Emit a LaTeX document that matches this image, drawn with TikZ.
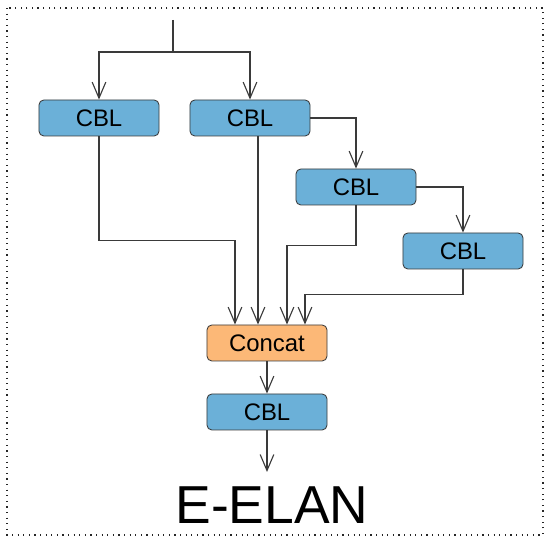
\documentclass[tikz,border=0pt]{standalone}
\usepackage{fontspec}
\setmainfont{Liberation Sans}
\usetikzlibrary{arrows.meta, positioning, calc}
\definecolor{EEblue}{HTML}{6BB0D8}
\definecolor{EEorange}{HTML}{FCB877}
\definecolor{EEink}{HTML}{3A3A3A}
\tikzset{
  eebox/.style={
    rectangle, rounded corners=1.2mm, draw=EEink, line width=0.6pt,
    text=black, align=center, minimum width=30mm, minimum height=9mm,
    inner sep=0pt, font=\fontsize{17}{19}\selectfont},
  eecbl/.style={eebox, fill=EEblue},
  eecat/.style={eebox, fill=EEorange},
  eearr/.style={-{Straight Barb[length=4mm,width=3.4mm]}, line width=0.8pt, draw=EEink},
  eeline/.style={line width=0.8pt, draw=EEink},
  eeframe/.style={line width=1.1pt, dash pattern=on 0.3mm off 1.1mm, draw=black!85},
}

\begin{document}
\begin{tikzpicture}[x=0.25mm, y=-0.25mm]
  \useasboundingbox (0,0) rectangle (550,543);
  \draw[eeframe] (7,8) rectangle (543,535);
  % blocks
  \node[eecbl] (cbla) at (99,118) {CBL};
  \node[eecbl] (cblb) at (250,118) {CBL};
  \node[eecbl] (cblc) at (356,187) {CBL};
  \node[eecbl] (cbld) at (463,251) {CBL};
  \node[eecat] (concat) at (267,343) {Concat};
  \node[eecbl] (cble) at (267,412) {CBL};
  \node[font=\fontsize{38}{42}\selectfont] (title) at (272,505) {E-ELAN};
  % input split
  \coordinate (in) at (173,20);
  \coordinate (split) at (173,52);
  \draw[eeline] (in) -- (split);
  \draw[eearr] (split) -| (cbla.north);
  \draw[eearr] (split) -| (cblb.north);
  % chain
  \draw[eearr] (cblb.east) -| (cblc.north);
  \draw[eearr] (cblc.east) -| (cbld.north);
  % into concat
  \coordinate (ca) at ([xshift=-8mm]concat.north);
  \coordinate (cb) at ([xshift=-2.25mm]concat.north);
  \coordinate (cc) at ([xshift=5mm]concat.north);
  \coordinate (cd) at ([xshift=9.5mm]concat.north);
  \draw[eearr] (cbla.south) -- ++(0,104) -| (ca);
  \draw[eearr] (cblb.south -| cb) -- (cb);
  \draw[eearr] (cblc.south) -- ++(0,40) -| (cc);
  \draw[eearr] (cbld.south) -- ++(0,25) -| (cd);
  % output
  \coordinate (out) at (267,472);
  \draw[eearr] (concat) -- (cble);
  \draw[eearr] (cble.south) -- (out);
\end{tikzpicture}
\end{document}
